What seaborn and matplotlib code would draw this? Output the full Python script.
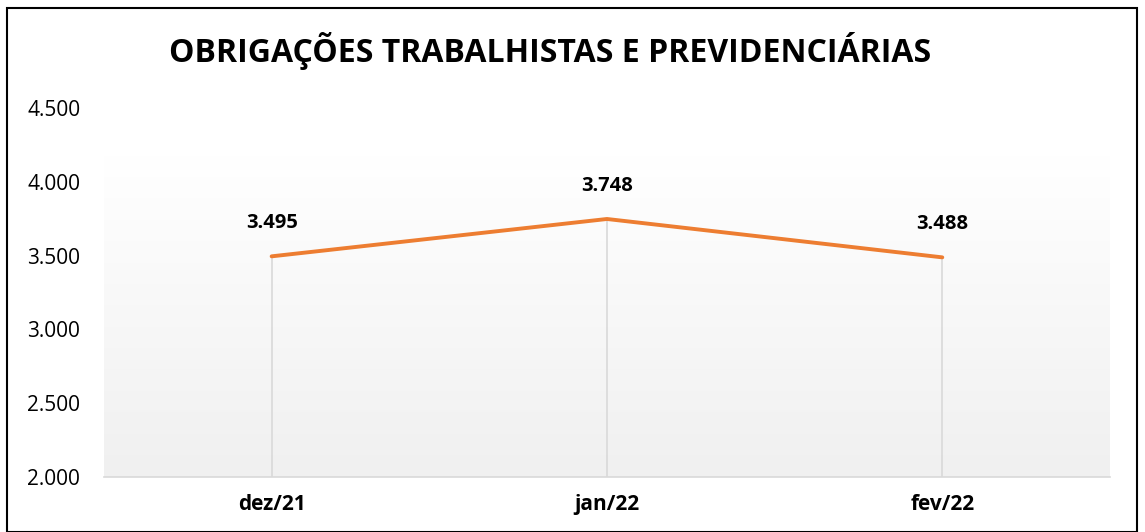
import numpy as np
import pandas as pd
import matplotlib
matplotlib.use("Agg")
import matplotlib.pyplot as plt
import seaborn as sns
from matplotlib.patches import Rectangle
from matplotlib.ticker import FuncFormatter

# ==========================================
# DATA
# ==========================================

meses = ["dez/21", "jan/22", "fev/22"]
valores = [3495, 3748, 3488]

df = pd.DataFrame({"mes": meses, "valor": valores})

# ==========================================
# PLOT
# ==========================================

sns.set_style("white")
plt.rcParams['font.family'] = ['Open Sans', 'DejaVu Sans']

fig = plt.figure(figsize=(11.45, 5.32), dpi=100)
ax = fig.add_axes([0.0908, 0.1034, 0.9694 - 0.0908, 0.797 - 0.1034])

# gradient background (white -> light gray)
grad = np.linspace(0, 1, 256).reshape(-1, 1)
cmap = matplotlib.colors.LinearSegmentedColormap.from_list(
    "bg", ["#f0f0f0", "#ffffff"]
)
ax.imshow(grad, cmap=cmap, aspect="auto", origin="lower",
          extent=(-0.5, 2.5, 2000, 4180), zorder=0)

x = np.arange(len(meses))
ax.vlines(x, 2000, valores, color="#d9d9d9", linewidth=1.2, zorder=1)

sns.lineplot(x=x, y=df["valor"], color="#ED7D31", linewidth=2.8,
             ax=ax, zorder=3)

for xi, v in zip(x, valores):
    ax.annotate(f"{v:,}".replace(",", "."), (xi, v), xytext=(0, 24),
                textcoords="offset points", ha="center", va="center",
                fontsize=14.5, fontweight="bold", color="black")

ax.set_xlim(-0.5, 2.5)
ax.set_ylim(2000, 4500)
ax.set_yticks([2000, 2500, 3000, 3500, 4000, 4500])
ax.yaxis.set_major_formatter(FuncFormatter(lambda v, p: f"{int(v):,}".replace(",", ".")))
ax.set_xticks(x)
ax.set_xticklabels(meses, fontweight="bold")
ax.tick_params(axis="both", labelsize=15, length=0, colors="black")
ax.tick_params(axis="x", pad=12)
ax.tick_params(axis="y", pad=17)
ax.set_xlabel("")
ax.set_ylabel("")

for side in ["top", "right", "left"]:
    ax.spines[side].set_visible(False)
ax.spines["bottom"].set_color("#d9d9d9")
ax.spines["bottom"].set_linewidth(1.2)

fig.text(0.480, 0.905, "OBRIGAÇÕES TRABALHISTAS E PREVIDENCIÁRIAS",
         ha="center", va="center", fontsize=23, fontweight="bold",
         color="black")

# outer border
fig.patches.append(Rectangle((7 / 1145, 0.0), 1130 / 1145, 1 - 8 / 532,
                             transform=fig.transFigure, fill=False,
                             edgecolor="black", linewidth=1.5))

fig.savefig("out.png", dpi=100)
